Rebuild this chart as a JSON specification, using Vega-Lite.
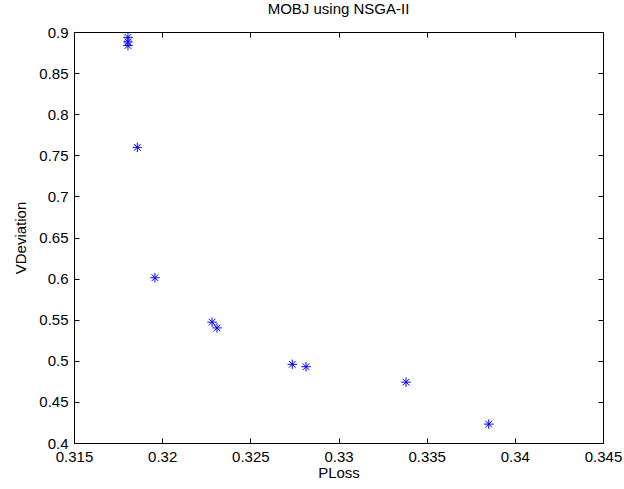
{
  "$schema": "https://vega.github.io/schema/vega-lite/v6.json",
  "width": 529,
  "height": 411,
  "autosize": {"type": "none"},
  "padding": {"left": 74, "top": 32, "right": 21, "bottom": 46},
  "background": "white",
  "config": {
    "font": "Liberation Sans",
    "view": {"stroke": "black", "strokeWidth": 1},
    "axis": {"grid": false, "domain": false, "tickColor": "black", "tickSize": -5, "labelColor": "black", "titleColor": "black", "labelFont": "Liberation Sans", "titleFont": "Liberation Sans", "labelFontSize": 15, "titleFontSize": 15, "titleFontWeight": "normal"}
  },
  "title": {"text": "MOBJ using NSGA-II", "fontSize": 15, "fontWeight": "normal", "font": "Liberation Sans", "color": "black", "offset": 8},
  "data": {"values": [
    {"PLoss": 0.31806, "VDeviation": 0.8935},
    {"PLoss": 0.31806, "VDeviation": 0.888},
    {"PLoss": 0.31806, "VDeviation": 0.8835},
    {"PLoss": 0.31859, "VDeviation": 0.7597},
    {"PLoss": 0.31959, "VDeviation": 0.601},
    {"PLoss": 0.32283, "VDeviation": 0.547},
    {"PLoss": 0.32311, "VDeviation": 0.540},
    {"PLoss": 0.32738, "VDeviation": 0.4957},
    {"PLoss": 0.32816, "VDeviation": 0.4928},
    {"PLoss": 0.33383, "VDeviation": 0.474},
    {"PLoss": 0.33852, "VDeviation": 0.423}
  ]},
  "resolve": {"axis": {"x": "independent", "y": "independent"}},
  "layer": [
    {
      "mark": {"type": "point", "shape": "M-1,0L1,0M0,-1L0,1M-0.7,-0.7L0.7,0.7M-0.7,0.7L0.7,-0.7", "filled": false, "stroke": "#0000ff", "strokeWidth": 1, "size": 90, "opacity": 1},
      "encoding": {
        "x": {"field": "PLoss", "type": "quantitative", "scale": {"domain": [0.315, 0.345], "nice": false, "zero": false}, "axis": {"title": "PLoss", "values": [0.315, 0.32, 0.325, 0.33, 0.335, 0.34, 0.345], "format": "~g", "labelPadding": 11, "titlePadding": 1, "labelFlush": false}},
        "y": {"field": "VDeviation", "type": "quantitative", "scale": {"domain": [0.4, 0.9], "nice": false, "zero": false}, "axis": {"title": "VDeviation", "values": [0.4, 0.45, 0.5, 0.55, 0.6, 0.65, 0.7, 0.75, 0.8, 0.85, 0.9], "format": "~g", "labelPadding": 11, "titlePadding": 10, "labelFlush": false}}
      }
    },
    {
      "mark": {"type": "point", "opacity": 0},
      "encoding": {
        "x": {"field": "PLoss", "type": "quantitative", "scale": {"domain": [0.315, 0.345], "nice": false, "zero": false}, "axis": {"orient": "top", "title": null, "labels": false, "values": [0.315, 0.32, 0.325, 0.33, 0.335, 0.34, 0.345]}},
        "y": {"field": "VDeviation", "type": "quantitative", "scale": {"domain": [0.4, 0.9], "nice": false, "zero": false}, "axis": {"orient": "right", "title": null, "labels": false, "values": [0.4, 0.45, 0.5, 0.55, 0.6, 0.65, 0.7, 0.75, 0.8, 0.85, 0.9]}}
      }
    }
  ]
}
